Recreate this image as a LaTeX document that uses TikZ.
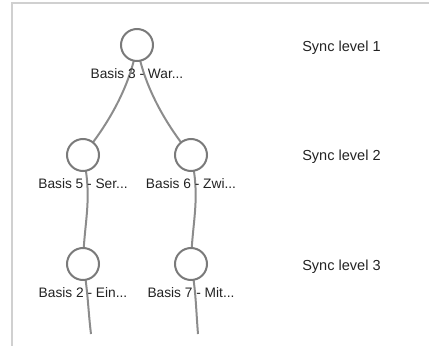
\documentclass[tikz,border=0pt]{standalone}
\usepackage{fontspec}
\setmainfont{Liberation Sans}
\usetikzlibrary{backgrounds}
\definecolor{nodeGray}{HTML}{7A7A7A}
\definecolor{linkGray}{HTML}{8C8C8C}
\definecolor{frameGray}{HTML}{D0D0D0}
\definecolor{textGray}{HTML}{222222}

\begin{document}
\begin{tikzpicture}[
  x=0.75pt, y=-0.75pt,
  every node/.style={font=\fontsize{10.3}{12}\selectfont},
  basisnode/.style={circle, draw=nodeGray, fill=white, line width=1.5pt,
    minimum size=24pt, inner sep=0pt},
  basislabel/.style={inner sep=0pt, text=textGray},
  levellabel/.style={font=\fontsize{10.9}{13}\selectfont, inner sep=0pt,
    anchor=base west, text=textGray},
  treelink/.style={draw=linkGray, line width=1.5pt},
  framestyle/.style={draw=frameGray, line width=1.5pt},
]
\useasboundingbox (0,0) rectangle (429,346);

% ======= Level 1 =======
\node[basisnode] (b3) at (137,45) {};
\node[basislabel] (b3lab) at (137,74) {Basis 3 - War...};

% ======= Level 2 =======
\node[basisnode] (b5) at (83,155) {};
\node[basislabel] (b5lab) at (83,183.5) {Basis 5 - Ser...};
\node[basisnode] (b6) at (191,155) {};
\node[basislabel] (b6lab) at (191,183.5) {Basis 6 - Zwi...};

% ======= Level 3 =======
\node[basisnode] (b2) at (83,264) {};
\node[basislabel] (b2lab) at (83,293) {Basis 2 - Ein...};
\node[basisnode] (b7) at (191,264) {};
\node[basislabel] (b7lab) at (191,293) {Basis 7 - Mit...};

% links leave the view here
\coordinate (b2end) at (91,334);
\coordinate (b7end) at (198,334);

% Sync levels
\node[levellabel] (sync1) at (302,51.5) {Sync level 1};
\node[levellabel] (sync2) at (302,160.5) {Sync level 2};
\node[levellabel] (sync3) at (302,270) {Sync level 3};

% ======= Links and frame =======
\begin{scope}[on background layer]
  \draw[framestyle] (12,346) -- (12,3) -- (429,3);
  \draw[treelink] (b3.center) .. controls (131,85) and (108,125) .. (b5.center);
  \draw[treelink] (b3.center) .. controls (143,85) and (166,125) .. (b6.center);
  \draw[treelink] (b5.center) .. controls (93,200) and (84,220) .. (b2.center);
  \draw[treelink] (b6.center) .. controls (201,200) and (192,220) .. (b7.center);
  \draw[treelink] (b2.center) .. controls (88,290) and (88,310) .. (b2end);
  \draw[treelink] (b7.center) .. controls (196,290) and (196,310) .. (b7end);
\end{scope}

\end{tikzpicture}
\end{document}
